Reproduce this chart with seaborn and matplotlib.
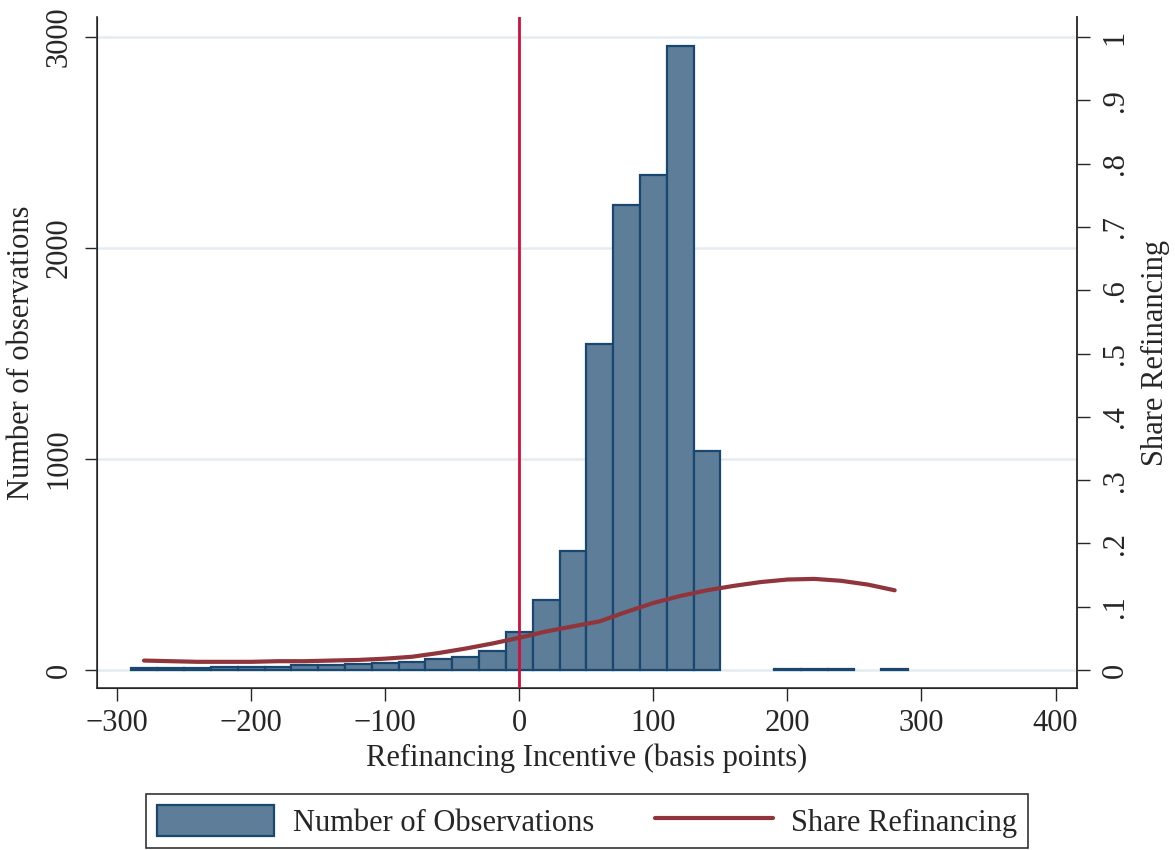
import numpy as np
import pandas as pd
import seaborn as sns
import matplotlib.pyplot as plt
from matplotlib.patches import Patch
from matplotlib.lines import Line2D

# histogram bins (20 bp wide), counts
bin_left = [-290, -270, -250, -230, -210, -190, -170, -150, -130, -110, -90, -70,
            -50, -30, -10, 10, 30, 50, 70, 90, 110, 130, 150, 170, 190, 210, 230,
            250, 270]
counts = [8, 8, 8, 14, 14, 14, 24, 26, 28, 33, 38, 52,
          62, 90, 180, 332, 564, 1545, 2204, 2346, 2957, 1038, 0, 0, 5, 5, 5,
          0, 4]

# smoothed share refinancing
share_x = [-280, -260, -240, -220, -200, -180, -160, -140, -120, -100, -80, -60,
           -40, -20, 0, 20, 40, 60, 80, 100, 120, 140, 160, 180, 200, 220, 240,
           260, 280]
share_y = [0.015, 0.014, 0.013, 0.013, 0.013, 0.014, 0.014, 0.015, 0.016, 0.018,
           0.021, 0.027, 0.034, 0.042, 0.051, 0.061, 0.069, 0.077, 0.092, 0.106,
           0.117, 0.126, 0.133, 0.139, 0.143, 0.144, 0.141, 0.135, 0.126]

bar_fill = "#5d7d99"
bar_edge = "#1a476f"
line_col = "#90353b"
fs = 22

sns.set_style("white")
plt.rcParams['font.family'] = ['Liberation Serif', 'DejaVu Serif']

hist_df = pd.DataFrame({"x": np.array(bin_left) + 10, "n": counts})
edges = list(bin_left) + [bin_left[-1] + 20]

fig = plt.figure(figsize=(11.75, 8.5), dpi=100)
ax = fig.add_axes([0.0826, 0.1906, 0.834, 0.7894])

for v in [0, 1000, 2000, 3000]:
    ax.axhline(v, color="#e4ecf0", lw=1.8, zorder=0)

sns.histplot(data=hist_df, x="x", weights="n", bins=edges, ax=ax,
             color=bar_fill, edgecolor=bar_edge, linewidth=1.6, alpha=1,
             zorder=2)
# empty bins are not drawn
for p in ax.patches:
    if p.get_height() == 0:
        p.set_visible(False)
ax.axvline(0, color="#d0103a", lw=2, zorder=4)

ax.set_xlim(-315, 416)
ax.set_ylim(-85, 3095)
ax.set_xticks([-300, -200, -100, 0, 100, 200, 300, 400])
ax.set_xticklabels(["\u2212300", "\u2212200", "\u2212100", "0", "100", "200", "300", "400"])
ax.set_yticks([0, 1000, 2000, 3000])
ax.set_xlabel("Refinancing Incentive (basis points)", fontsize=fs, labelpad=4)
ax.set_ylabel("Number of observations", fontsize=fs, labelpad=6)
ax.tick_params(axis="x", labelsize=fs, length=9, width=1, pad=6, direction="out", bottom=True)
ax.tick_params(axis="y", labelsize=fs, length=9, width=1, pad=8, direction="out", left=True)
for lab in ax.get_yticklabels():
    lab.set_rotation(90)
    lab.set_va("center")
ax.spines["top"].set_visible(False)
for s in ["left", "bottom", "right"]:
    ax.spines[s].set_color("#333333")
    ax.spines[s].set_linewidth(1.2)

ax2 = ax.twinx()
sns.lineplot(x=share_x, y=share_y, ax=ax2, color=line_col, lw=3, zorder=3)
ax2.set_ylim(-85 / 3000, 3095 / 3000)
ticks2 = [i / 10 for i in range(11)]
ax2.set_yticks(ticks2)
ax2.set_yticklabels(["0"] + ["." + str(i) for i in range(1, 10)] + ["1"])
ax2.set_ylabel("Share Refinancing", fontsize=fs, labelpad=8)
ax2.tick_params(axis="y", labelsize=fs, length=9, width=1, pad=8, direction="out", right=True)
for lab in ax2.get_yticklabels():
    lab.set_rotation(90)
    lab.set_va("center")
ax2.spines["top"].set_visible(False)
ax2.spines["right"].set_color("#333333")
ax2.spines["right"].set_linewidth(1.2)

handles = [Patch(facecolor=bar_fill, edgecolor=bar_edge, linewidth=1.6),
           Line2D([0], [0], color=line_col, lw=3)]
leg = fig.legend(handles, ["Number of Observations", "Share Refinancing"],
                 loc="center", bbox_to_anchor=(0.4995, 0.034), ncol=2,
                 fontsize=fs, frameon=True, fancybox=False, handlelength=3.85,
                 handleheight=1.2, handletextpad=0.6, columnspacing=2.0,
                 borderpad=0.35)
leg.get_frame().set_edgecolor("black")
leg.get_frame().set_linewidth(1.2)

fig.savefig("out.png", dpi=100)
